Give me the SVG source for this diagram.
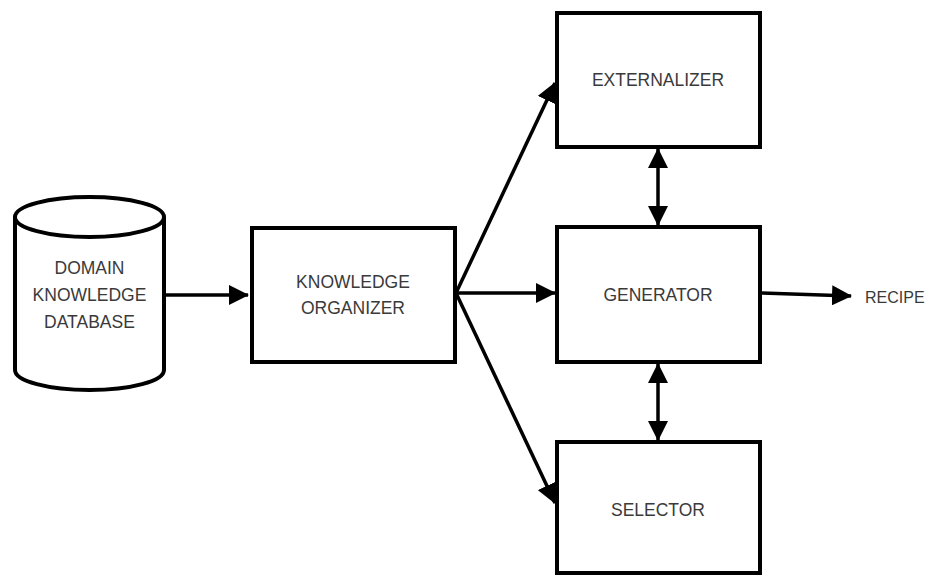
<svg xmlns="http://www.w3.org/2000/svg" width="929" height="575" viewBox="0 0 929 575">
<style>
.box{fill:#fff;stroke:#000;stroke-width:4}
.lbl{font-family:"Liberation Sans",Arial,sans-serif;font-size:17.5px;fill:#3a3a3a;text-anchor:middle}
.con{stroke:#000;stroke-width:3.5;fill:none}
</style>
<defs>
<marker id="ah" viewBox="0 0 20 20" refX="19" refY="10" markerWidth="20" markerHeight="20" markerUnits="userSpaceOnUse" orient="auto-start-reverse">
<path d="M0,0 L20,10 L0,20 z" fill="#000"/>
</marker>
</defs>
<rect width="929" height="575" fill="#fff"/>
<g id="connectors">
<line class="con" x1="166" y1="295" x2="248" y2="295" marker-end="url(#ah)"/>
<line class="con" x1="456" y1="293" x2="555" y2="83" marker-end="url(#ah)"/>
<line class="con" x1="456" y1="293" x2="555" y2="293" marker-end="url(#ah)"/>
<line class="con" x1="456" y1="293" x2="555" y2="503" marker-end="url(#ah)"/>
<line class="con" x1="658" y1="149" x2="658" y2="225" marker-start="url(#ah)" marker-end="url(#ah)"/>
<line class="con" x1="658" y1="364" x2="658" y2="440" marker-start="url(#ah)" marker-end="url(#ah)"/>
<line class="con" x1="762" y1="293" x2="851" y2="296" marker-end="url(#ah)"/>
</g>
<g id="database">
<path class="box" d="M15,217 L15,370 A74.5,20 0 0 0 164,370 L164,217"/>
<ellipse class="box" cx="89.5" cy="217" rx="74.5" ry="20"/>
<text class="lbl" x="89.5" y="274">DOMAIN</text>
<text class="lbl" x="89.5" y="301">KNOWLEDGE</text>
<text class="lbl" x="89.5" y="328">DATABASE</text>
</g>
<g id="organizer">
<rect class="box" x="252" y="228" width="203" height="134"/>
<text class="lbl" x="353" y="288">KNOWLEDGE</text>
<text class="lbl" x="353" y="314">ORGANIZER</text>
</g>
<g id="externalizer">
<rect class="box" x="557" y="13" width="203" height="134"/>
<text class="lbl" x="658" y="86">EXTERNALIZER</text>
</g>
<g id="generator">
<rect class="box" x="557" y="227" width="203" height="135"/>
<text class="lbl" x="658" y="301">GENERATOR</text>
</g>
<g id="selector">
<rect class="box" x="557" y="442" width="203" height="131"/>
<text class="lbl" x="658" y="516">SELECTOR</text>
</g>
<g id="recipe">
<text class="lbl" x="865" y="303" style="text-anchor:start;font-size:16px">RECIPE</text>
</g>
</svg>
